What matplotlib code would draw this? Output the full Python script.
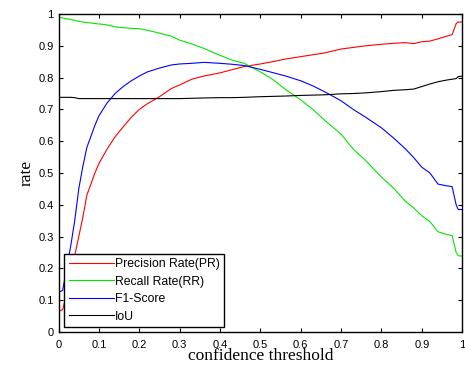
import numpy as np
import matplotlib
matplotlib.use("Agg")
import matplotlib.pyplot as plt

# confidence threshold (x) and the four rate curves
thr = [0, 0.01, 0.02, 0.03, 0.04, 0.05, 0.06, 0.07, 0.08, 0.09, 0.10,
       0.12, 0.14, 0.16, 0.18, 0.20, 0.22, 0.25, 0.28, 0.30, 0.33, 0.36,
       0.40, 0.43, 0.46, 0.50, 0.53, 0.56, 0.60, 0.63, 0.66, 0.70, 0.73,
       0.76, 0.80, 0.83, 0.86, 0.88, 0.90, 0.92, 0.94, 0.96, 0.975, 0.985,
       0.99, 1.0]

precision = [0.065, 0.07, 0.12, 0.18, 0.24, 0.30, 0.36, 0.43, 0.465, 0.50, 0.53,
             0.575, 0.614, 0.645, 0.675, 0.70, 0.718, 0.74, 0.766, 0.777, 0.795, 0.805,
             0.815, 0.825, 0.835, 0.843, 0.85, 0.858, 0.866, 0.872, 0.878, 0.89, 0.895,
             0.90, 0.905, 0.908, 0.91, 0.907, 0.913, 0.915, 0.922, 0.93, 0.935, 0.97,
             0.975, 0.975]

recall = [0.99, 0.988, 0.985, 0.983, 0.98, 0.977, 0.975, 0.973, 0.972, 0.97, 0.969,
          0.966, 0.96, 0.957, 0.955, 0.954, 0.949, 0.94, 0.93, 0.918, 0.906, 0.892,
          0.87, 0.855, 0.845, 0.818, 0.795, 0.765, 0.73, 0.70, 0.665, 0.622, 0.575,
          0.54, 0.487, 0.452, 0.41, 0.39, 0.365, 0.347, 0.315, 0.307, 0.303, 0.25,
          0.24, 0.238]

f1 = [0.125, 0.13, 0.20, 0.27, 0.35, 0.45, 0.52, 0.58, 0.615, 0.65, 0.68,
      0.72, 0.75, 0.772, 0.79, 0.805, 0.818, 0.83, 0.84, 0.843, 0.845, 0.848,
      0.845, 0.842, 0.838, 0.826, 0.816, 0.806, 0.79, 0.774, 0.755, 0.727, 0.70,
      0.676, 0.642, 0.61, 0.575, 0.548, 0.518, 0.50, 0.465, 0.46, 0.457, 0.40,
      0.385, 0.385]

iou = [0.738, 0.738, 0.738, 0.738, 0.737, 0.734, 0.734, 0.734, 0.734, 0.734, 0.734,
       0.734, 0.734, 0.734, 0.734, 0.734, 0.734, 0.734, 0.734, 0.734, 0.735, 0.736,
       0.737, 0.737, 0.738, 0.74, 0.741, 0.742, 0.744, 0.745, 0.746, 0.749, 0.75,
       0.752, 0.756, 0.76, 0.762, 0.764, 0.772, 0.78, 0.787, 0.792, 0.795, 0.797,
       0.803, 0.805]

labels = ["Precision Rate(PR)", "Recall Rate(RR)", "F1-Score", "IoU"]
colors = ["#ff0000", "#00e600", "#0000ff", "#000000"]

plt.rcParams["font.family"] = ["Liberation Sans", "DejaVu Sans"]

fig = plt.figure(figsize=(4.65, 3.7), dpi=100)
ax = fig.add_axes([0.126, 0.103, 0.868, 0.859])

for ys, lab, c in zip([precision, recall, f1, iou], labels, colors):
    ax.plot(thr, ys, color=c, lw=0.8, label=lab)

ax.set_xlim(0, 1)
ax.set_ylim(0, 1)
ax.set_xticks(np.arange(0, 1.01, 0.1))
ax.set_yticks(np.arange(0, 1.01, 0.1))
ax.set_xticklabels(["0"] + ["%.1f" % v for v in np.arange(0.1, 0.95, 0.1)] + ["1"])
ax.set_yticklabels(["0"] + ["%.1f" % v for v in np.arange(0.1, 0.95, 0.1)] + ["1"])
ax.tick_params(direction="in", top=True, right=True, length=3, width=0.8,
               labelsize=8, pad=3.5)
ax.tick_params(axis="x", pad=5.5)
for s in ax.spines.values():
    s.set_linewidth(1.0)

ax.set_xlabel("confidence threshold", family="Liberation Serif", fontsize=12.5, labelpad=-1)
ax.set_ylabel("rate", family="Liberation Serif", fontsize=12.5, labelpad=3)

leg = ax.legend(loc="lower left", bbox_to_anchor=(0.014, 0.016), borderaxespad=0,
                fancybox=False, edgecolor="black", framealpha=1, fontsize=8.8,
                handlelength=3.7, handletextpad=0.1, labelspacing=0.45,
                borderpad=0.35)
leg.get_frame().set_linewidth(1.0)

fig.savefig("out.png", dpi=100)
